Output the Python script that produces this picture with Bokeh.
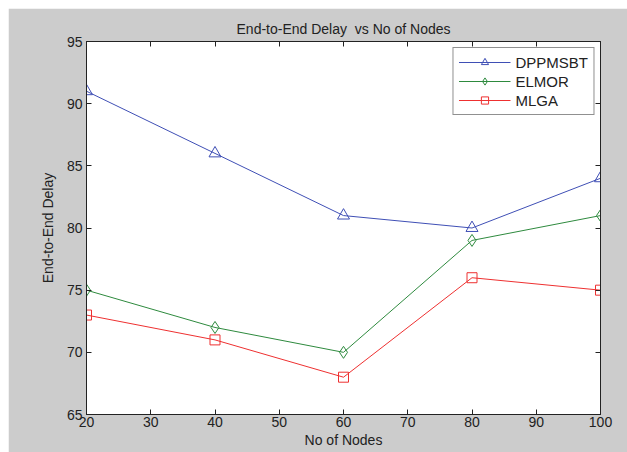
from bokeh.plotting import figure
from bokeh.models import Range1d, LinearAxis, FixedTicker, Legend, LegendItem
from bokeh.embed import file_html
from bokeh.resources import INLINE

nodes = [20, 40, 60, 80, 100]
dppmsbt = [91, 86, 81, 80, 84]
elmor = [75, 72, 70, 79, 81]
mlga = [73, 71, 68, 76, 75]
x_ticks = [20, 30, 40, 50, 60, 70, 80, 90, 100]
y_ticks = [65, 70, 75, 80, 85, 90, 95]

FONT = "Liberation Sans"
BG = "#cccccc"

p = figure(width=619, height=444, output_backend="svg", toolbar_location=None,
           x_range=Range1d(20, 100), y_range=Range1d(65, 95),
           min_border_left=78, min_border_right=27, min_border_top=33, min_border_bottom=38,
           background_fill_color="white", border_fill_color=BG,
           title="End-to-End Delay\u00a0 vs No of Nodes")
p.margin = (8, 0, 0, 8)
p.title.align = "center"
p.title.text_font = FONT
p.title.text_font_size = "14px"
p.title.text_font_style = "normal"
p.title.text_color = "#222222"
p.outline_line_color = "#222222"
p.grid.visible = False

def style_axis(ax, ticks, labels=True):
    ax.ticker = FixedTicker(ticks=ticks)
    ax.major_tick_in = 5
    ax.major_tick_out = 0
    ax.minor_tick_line_color = None
    ax.axis_line_color = "#222222"
    ax.major_tick_line_color = "#222222"
    ax.major_label_text_font = FONT
    ax.major_label_text_font_size = "14px"
    ax.major_label_text_color = "#222222"
    ax.axis_label_text_font = FONT
    ax.axis_label_text_font_size = "14px"
    ax.axis_label_text_font_style = "normal"
    ax.axis_label_text_color = "#222222"
    if not labels:
        ax.major_label_text_color = None

style_axis(p.xaxis[0], x_ticks)
style_axis(p.yaxis[0], y_ticks)
p.xaxis[0].axis_label = "No of Nodes"
p.xaxis[0].axis_label_standoff = 2
p.xaxis[0].major_label_standoff = 2
p.yaxis[0].axis_label = "End-to-End Delay"
p.yaxis[0].axis_label_standoff = 8
p.yaxis[0].major_label_standoff = 4

top = LinearAxis()
style_axis(top, x_ticks, labels=False)
p.add_layout(top, "above")
right = LinearAxis()
style_axis(right, y_ticks, labels=False)
p.add_layout(right, "right")
top.major_label_text_font_size = "0px"
right.major_label_text_font_size = "0px"

series = [
    ("DPPMSBT", dppmsbt, "#3f4fb5", "triangle"),
    ("ELMOR", elmor, "#2e8a3e", "diamond"),
    ("MLGA", mlga, "#ee3030", "square"),
]
items = []
for name, vals, col, mk in series:
    ln = p.line(nodes, vals, line_color=col, line_width=1)
    sz = 12 if mk != "square" else 10
    sc = p.scatter(nodes, vals, marker=mk, size=sz, line_color=col, fill_color=None, line_width=1)
    items.append(LegendItem(label=name, renderers=[ln, sc]))

legend = Legend(items=items, location="top_right")
legend.label_text_font = FONT
legend.label_text_font_size = "15px"
legend.label_text_color = "#222222"
legend.border_line_color = "#222222"
legend.border_line_width = 1
legend.background_fill_color = "white"
legend.background_fill_alpha = 1
legend.glyph_width = 52
legend.spacing = 1
legend.padding = 5
legend.margin = 6
legend.label_height = 18
legend.glyph_height = 18
p.add_layout(legend, "center")

open("out.html", "w").write(file_html(p, INLINE))
